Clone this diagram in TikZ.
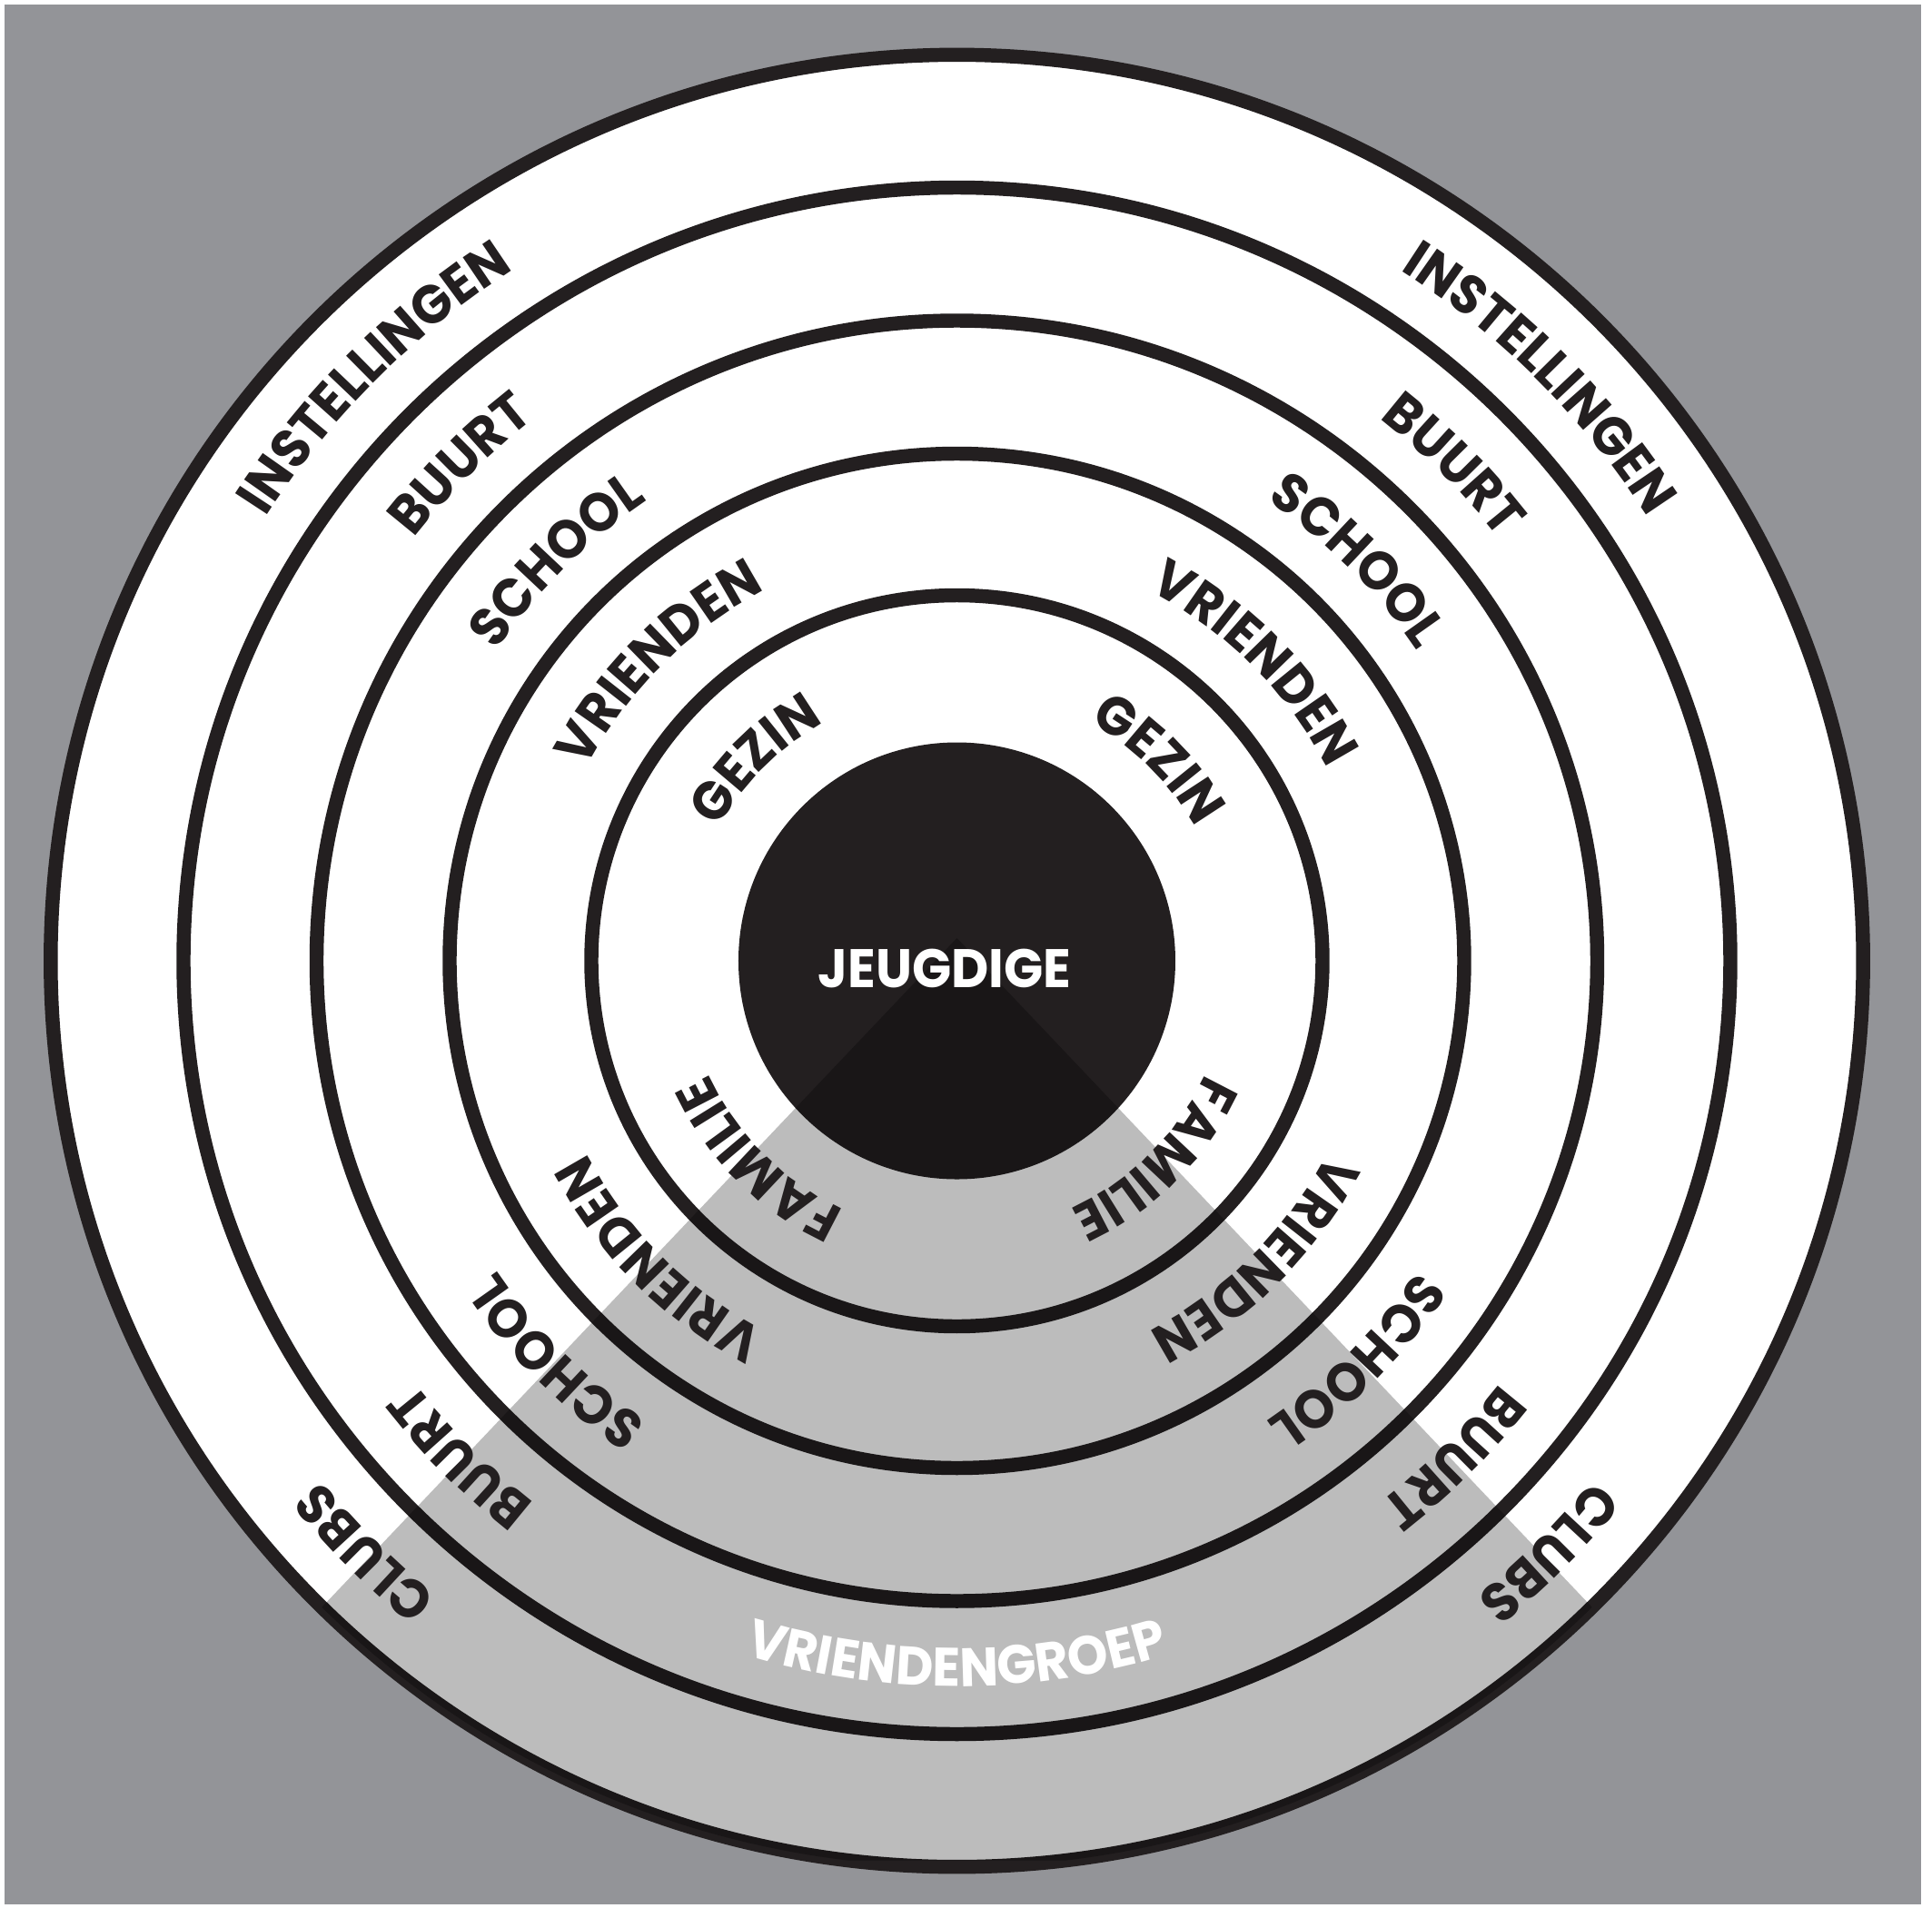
\documentclass[tikz,border=0pt]{standalone}
\usepackage{fontspec}
\setmainfont{Poppins}[FakeStretch=0.95]
\usetikzlibrary{decorations.text}
\definecolor{bggray}{HTML}{939498}
\definecolor{wedgegray}{HTML}{BCBCBC}
\definecolor{ink}{HTML}{231F20}
\newcommand{\lblfont}{\bfseries\fontsize{17}{20}\selectfont}

\begin{document}
\begin{tikzpicture}[
  ring/.style={draw=ink, line width=4.4pt},
  cwlabel/.style={decorate, decoration={text along path, text align=center, text color=ink, text={|\lblfont|#1}}},
  ccwlabel/.style={decorate, decoration={text along path, text align=center, text color=white, text={|\lblfont|#1}}}
]
\useasboundingbox (-10.535,-10.42) rectangle (10.735,10.58);
\fill[white] (-10.535,-10.42) rectangle (10.735,10.58);
\fill[bggray] (-10.485,-10.39) rectangle (10.615,10.53);

\fill[white] (0,0) circle (9.977);
\fill[ink] (0,0) circle (2.405);
\draw[ring] (0,0) circle (9.977);
\draw[ring] (0,0) circle (8.515);
\draw[ring] (0,0) circle (7.05);
\draw[ring] (0,0) circle (5.585);
\draw[ring] (0,0) circle (4.025);

\begin{scope}
\clip (0,0) circle (9.977);
\fill[wedgegray, blend mode=multiply] (0,0.25) -- +(226.5:14) -- +(313.5:14) -- cycle;
\end{scope}

\node[anchor=base, text=white, font=\lblfont] (jeugdige) at (-0.135,-0.29) {JEUGDIGE};

\path[cwlabel=GEZIN] (175:3.005) arc[start angle=175, end angle=95, radius=3.005];
\path[cwlabel=VRIENDEN] (175:4.595) arc[start angle=175, end angle=95, radius=4.595];
\path[cwlabel=SCHOOL] (175:6.11) arc[start angle=175, end angle=95, radius=6.11];
\path[cwlabel=BUURT] (175:7.57) arc[start angle=175, end angle=95, radius=7.57];
\path[cwlabel=INSTELLINGEN] (175:9.04) arc[start angle=175, end angle=95, radius=9.04];

\path[cwlabel=GEZIN] (85:3.005) arc[start angle=85, end angle=5, radius=3.005];
\path[cwlabel=VRIENDEN] (85:4.595) arc[start angle=85, end angle=5, radius=4.595];
\path[cwlabel=SCHOOL] (85:6.11) arc[start angle=85, end angle=5, radius=6.11];
\path[cwlabel=BUURT] (85:7.57) arc[start angle=85, end angle=5, radius=7.57];
\path[cwlabel=INSTELLINGEN] (85:9.04) arc[start angle=85, end angle=5, radius=9.04];

\path[cwlabel=FAMILIE] (265:3.005) arc[start angle=265, end angle=185, radius=3.005];
\path[cwlabel=VRIENDEN] (265:4.595) arc[start angle=265, end angle=185, radius=4.595];
\path[cwlabel=SCHOOL] (265:6.11) arc[start angle=265, end angle=185, radius=6.11];
\path[cwlabel=BUURT] (265:7.57) arc[start angle=265, end angle=185, radius=7.57];
\path[cwlabel=CLUBS] (265:9.04) arc[start angle=265, end angle=185, radius=9.04];

\path[cwlabel=FAMILIE] (355:3.005) arc[start angle=355, end angle=275, radius=3.005];
\path[cwlabel=VRIENDEN] (355:4.595) arc[start angle=355, end angle=275, radius=4.595];
\path[cwlabel=SCHOOL] (355:6.11) arc[start angle=355, end angle=275, radius=6.11];
\path[cwlabel=BUURT] (355:7.57) arc[start angle=355, end angle=275, radius=7.57];
\path[cwlabel=CLUBS] (355:9.04) arc[start angle=355, end angle=275, radius=9.04];

\path[ccwlabel=VRIENDENGROEP] (230:7.99) arc[start angle=230, end angle=310, radius=7.99];
\end{tikzpicture}
\end{document}
